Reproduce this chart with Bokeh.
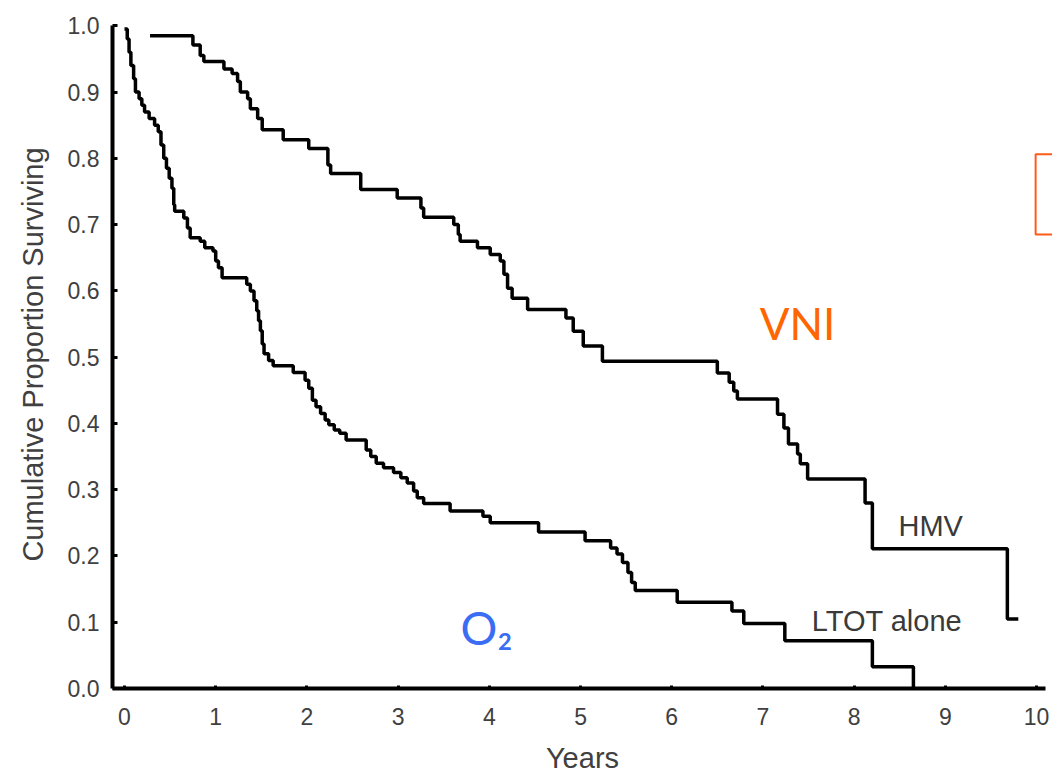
from bokeh.plotting import figure
from bokeh.models import Range1d, FixedTicker, BoxAnnotation, ColumnDataSource
from bokeh.core.properties import value
from bokeh.embed import file_html
from bokeh.resources import INLINE

# ---- data ----
ltot_years = [0.00, 0.03, 0.05, 0.07, 0.10, 0.12, 0.16, 0.19, 0.22, 0.27, 0.33, 0.37, 0.40, 0.43,
              0.46, 0.49, 0.52, 0.54, 0.55, 0.65, 0.69, 0.72, 0.83, 0.88, 0.97, 1.00, 1.03, 1.07,
              1.34, 1.38, 1.42, 1.45, 1.47, 1.49, 1.51, 1.53, 1.58, 1.63, 1.85, 1.98, 2.02, 2.06,
              2.10, 2.15, 2.20, 2.24, 2.30, 2.36, 2.43, 2.65, 2.70, 2.76, 2.84, 2.95, 3.03, 3.10,
              3.17, 3.21, 3.28, 3.57, 3.93, 4.01, 4.54, 5.05, 5.33, 5.40, 5.46, 5.52, 5.56, 5.60,
              6.06, 6.66, 6.79, 7.24, 8.20, 8.65]
ltot_surv = [0.995, 0.98, 0.96, 0.94, 0.92, 0.90, 0.89, 0.88, 0.87, 0.86, 0.85, 0.84, 0.82, 0.80,
             0.785, 0.77, 0.755, 0.73, 0.72, 0.71, 0.695, 0.68, 0.675, 0.665, 0.66, 0.645, 0.635, 0.62,
             0.61, 0.60, 0.585, 0.57, 0.555, 0.54, 0.52, 0.505, 0.495, 0.487, 0.477, 0.465, 0.453, 0.435,
             0.425, 0.415, 0.405, 0.398, 0.39, 0.385, 0.375, 0.36, 0.35, 0.34, 0.333, 0.326, 0.318, 0.31,
             0.298, 0.288, 0.279, 0.268, 0.26, 0.25, 0.236, 0.223, 0.212, 0.203, 0.19, 0.175, 0.16, 0.148,
             0.13, 0.117, 0.098, 0.072, 0.033, 0.0]

hmv_years = [0.28, 0.75, 0.83, 0.87, 1.09, 1.18, 1.24, 1.27, 1.35, 1.38, 1.46, 1.51, 1.74, 2.02,
             2.23, 2.26, 2.59, 2.99, 3.25, 3.28, 3.61, 3.66, 3.68, 3.87, 4.01, 4.12, 4.16, 4.20,
             4.25, 4.42, 4.84, 4.92, 5.03, 5.24, 6.50, 6.63, 6.68, 6.72, 7.16, 7.23, 7.28, 7.38,
             7.41, 7.49, 8.12, 8.20, 9.68, 9.80]
hmv_surv = [0.985, 0.971, 0.955, 0.946, 0.935, 0.928, 0.916, 0.90, 0.89, 0.875, 0.86, 0.843, 0.828, 0.815,
            0.79, 0.777, 0.753, 0.74, 0.725, 0.711, 0.70, 0.685, 0.675, 0.665, 0.655, 0.645, 0.625, 0.604,
            0.589, 0.572, 0.559, 0.539, 0.517, 0.494, 0.476, 0.462, 0.449, 0.437, 0.414, 0.393, 0.369, 0.354,
            0.339, 0.316, 0.28, 0.211, 0.105, 0.105]

x_ticks = [0, 1, 2, 3, 4, 5, 6, 7, 8, 9, 10]
y_ticks = [0.0, 0.1, 0.2, 0.3, 0.4, 0.5, 0.6, 0.7, 0.8, 0.9, 1.0]
y_tick_labels = ["0.0", "0.1", "0.2", "0.3", "0.4", "0.5", "0.6", "0.7", "0.8", "0.9", "1.0"]

curve_labels = ["HMV", "LTOT alone"]
curve_label_x = [8.84, 8.36]
curve_label_y = [0.245, 0.102]

AXIS_FONT = "Liberation Sans"
TEXT_GRAY = "#3a3a3a"

p = figure(width=1052, height=781,
           x_range=Range1d(-0.1316, 10.175), y_range=Range1d(0.0, 1.008),
           output_backend="svg", toolbar_location=None,
           min_border_left=112, min_border_right=0, min_border_top=20, min_border_bottom=93)
p.outline_line_color = None
p.xgrid.visible = False
p.ygrid.visible = False
p.background_fill_color = "white"
p.border_fill_color = "white"

# axes
for ax in (p.xaxis[0], p.yaxis[0]):
    ax.axis_line_color = "black"
    ax.axis_line_width = 4
    ax.major_tick_line_color = "black"
    ax.major_tick_line_width = 3
    ax.minor_tick_line_color = None
    ax.major_tick_out = 0
    ax.major_label_text_font = AXIS_FONT
    ax.major_label_text_font_size = "23px"
    ax.major_label_text_color = "#404040"
    ax.axis_label_text_font = AXIS_FONT
    ax.axis_label_text_font_style = "normal"
    ax.axis_label_text_font_size = "29px"
    ax.axis_label_text_color = "#404040"

p.xaxis[0].ticker = FixedTicker(ticks=x_ticks)
p.xaxis[0].major_tick_in = 3
p.xaxis[0].bounds = (-0.13, 10.1)
p.xaxis[0].major_label_standoff = 19
p.xaxis[0].axis_label = "Years"
p.xaxis[0].axis_label_standoff = 14

p.yaxis[0].ticker = FixedTicker(ticks=y_ticks)
p.yaxis[0].major_label_overrides = {t: l for t, l in zip(y_ticks, y_tick_labels)}
p.yaxis[0].major_tick_in = 5
p.yaxis[0].bounds = (0.0, 1.0)
p.yaxis[0].major_label_standoff = 13
p.yaxis[0].axis_label = "Cumulative Proportion Surviving"
p.yaxis[0].axis_label_standoff = 16

# survival curves
p.step(x=ltot_years, y=ltot_surv, mode="after", line_color="black", line_width=3.5)
p.step(x=hmv_years, y=hmv_surv, mode="after", line_color="black", line_width=3.5)

# curve labels
src = ColumnDataSource(dict(x=curve_label_x, y=curve_label_y, t=curve_labels))
p.text(x="x", y="y", text="t", source=src, text_font=value(AXIS_FONT), text_font_size="29px",
       text_color=TEXT_GRAY, text_align="center", text_baseline="middle")

# coloured annotations
p.text(x=[7.38], y=[0.551], text=["VNI"], text_font=value("Lato"), text_font_size="44px",
       text_color="#ff6600", text_align="center", text_baseline="middle")
p.text(x=[3.97], y=[0.092], text=["O₂"], text_font=value("Lato"), text_font_size="46px",
       text_color="#3a6cf4", text_align="center", text_baseline="middle")

p.add_layout(BoxAnnotation(left=9.99, right=10.6, top=0.806, bottom=0.685,
                           fill_alpha=0, line_color="#ff5a1a", line_alpha=1.0, line_width=2))

open("out.html", "w").write(file_html(p, INLINE))
